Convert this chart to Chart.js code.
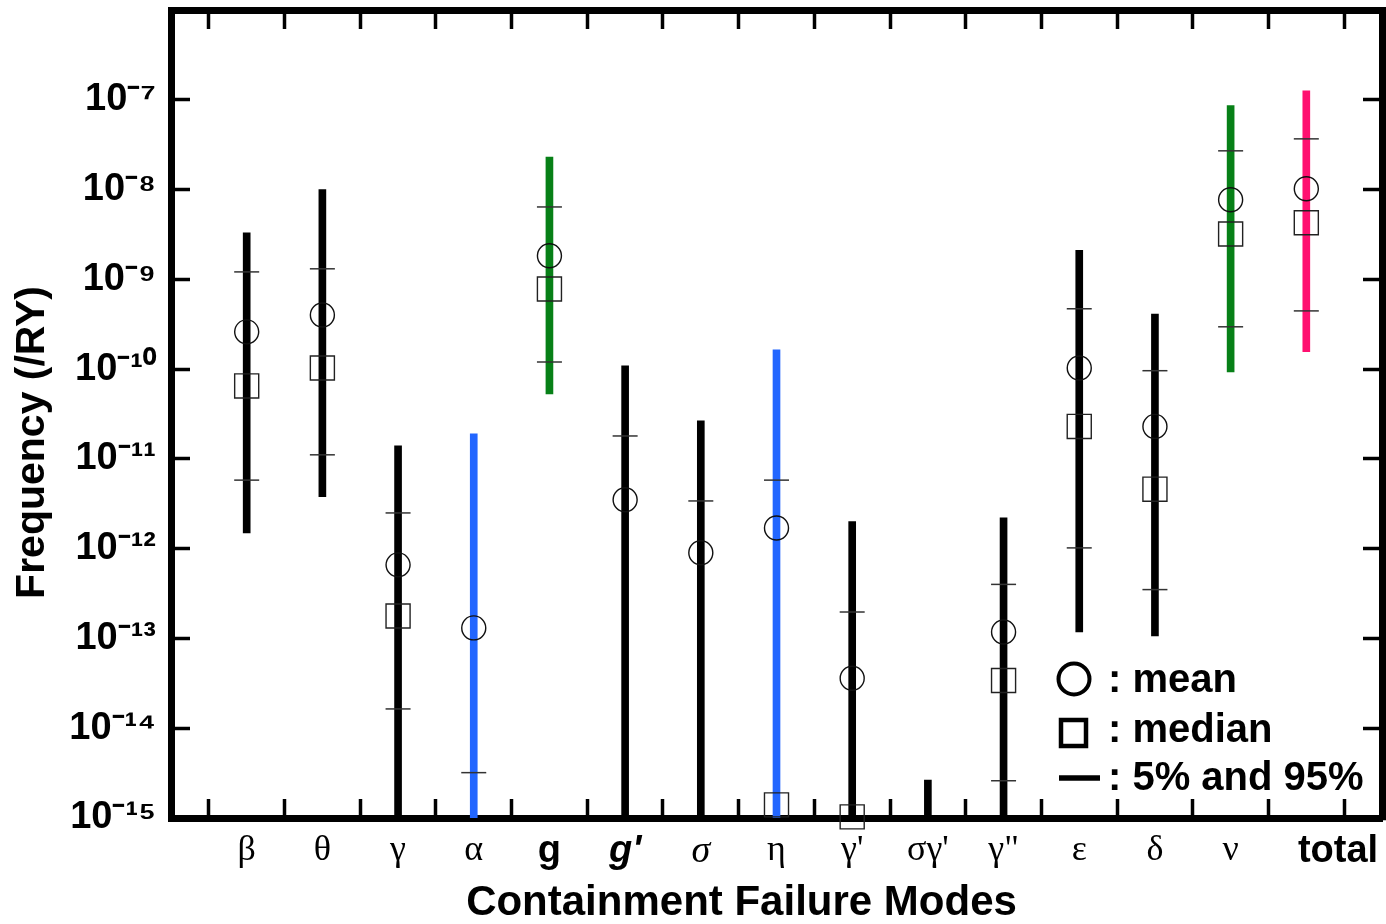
<!DOCTYPE html>
<html>
<head>
<meta charset="utf-8">
<script src="https://cdn.jsdelivr.net/npm/chart.js@4.4.1/dist/chart.umd.min.js"></script>
<style>
  html, body { margin: 0; padding: 0; background: #fff; overflow: hidden; }
  #wrap { width: 1386px; height: 924px; }
  canvas { display: block; }
</style>
</head>
<body>
<div id="wrap"><canvas id="cfm-chart" width="1386" height="924"></canvas></div>
<script>
// containment failure modes
const categories = ['β', 'θ', 'γ', 'α', 'g', "g'", 'σ', 'η', "γ'", "σγ'", 'γ"', 'ε', 'δ', 'ν', 'total'];

// thick bar (range), below-axis ends are just clipped
const barLow = [1.5e-12, 3.8e-12, 1e-16, 1e-16, 5.3e-11, 1e-16, 1e-16, 1e-16, 1e-16, 1e-16, 1e-16, 1.18e-13, 1.07e-13, 9.3e-11, 1.56e-10];
const barHigh = [3.3e-9, 1.0e-8, 1.4e-11, 1.9e-11, 2.3e-8, 1.09e-10, 2.65e-11, 1.64e-10, 2.0e-12, 2.65e-15, 2.2e-12, 2.1e-9, 4.1e-10, 8.6e-8, 1.26e-7];
const barColors = ['#000', '#000', '#000', '#2266ff', '#078017', '#000', '#000', '#2266ff', '#000', '#000', '#000', '#000', '#000', '#078017', '#ff1070'];

const meanValues = [2.6e-10, 4.0e-10, 6.6e-13, 1.31e-13, 1.83e-9, 3.5e-12, 9.0e-13, 1.7e-12, 3.6e-14, null, 1.18e-13, 1.03e-10, 2.3e-11, 7.7e-9, 1.02e-8];
const medianValues = [6.5e-11, 1.03e-10, 1.78e-13, null, 7.8e-10, null, null, 1.4e-15, 1.03e-15, null, 3.4e-14, 2.3e-11, 4.6e-12, 3.2e-9, 4.27e-9];
const p95Values = [1.21e-9, 1.31e-9, 2.5e-12, 3.2e-15, 6.4e-9, 1.8e-11, 3.4e-12, 5.8e-12, 1.97e-13, null, 4.0e-13, 4.7e-10, 9.6e-11, 2.7e-8, 3.67e-8];
const p5Values = [5.8e-12, 1.11e-11, 1.64e-14, null, 1.2e-10, null, null, null, null, null, 2.6e-15, 1.02e-12, 3.5e-13, 2.96e-10, 4.45e-10];

const yTicks = [1e-15, 1e-14, 1e-13, 1e-12, 1e-11, 1e-10, 1e-9, 1e-8, 1e-7];

// empty slot at each end so the modes sit one step in from the frame
function pad(arr) {
    return [null].concat(arr, [null]);
}

const labels = pad(categories).map(c => c === null ? '' : c);

const sup = {'0': '⁰', '1': '¹', '2': '²', '3': '³', '4': '⁴', '5': '⁵', '6': '⁶', '7': '⁷', '8': '⁸', '9': '⁹', '-': '⁻'};
function powerLabel(v) {
    const e = Math.round(Math.log10(v));
    return '10' + String(e).split('').map(ch => sup[ch]).join('');
}

function labelFont(ctx) {
    const lab = labels[ctx.index];
    if (lab === 'g' || lab === 'total') return {family: 'Liberation Sans', size: 38, weight: 'bold'};
    if (lab === "g'") return {family: 'Liberation Sans', size: 38, weight: 'bold', style: 'italic'};
    if (lab === 'σ') return {family: 'Liberation Serif', size: 38, style: 'italic'};
    return {family: 'Liberation Serif', size: 36};
}

const tickGrid = {
    drawOnChartArea: false,
    drawTicks: true,
    tickLength: -19,
    tickWidth: 3.5,
    tickColor: '#000'
};
const frame = {display: true, width: 7, color: '#000'};

function setDecades(scale) {
    scale.ticks = yTicks.map(v => ({value: v}));
}

// pin the frame: no extra room for overhanging labels
function noPadding(scale) {
    scale.paddingTop = 0;
    scale.paddingBottom = 0;
    scale.paddingLeft = 0;
    scale.paddingRight = 0;
}

const legendPlugin = {
    id: 'cornerLegend',
    afterDatasetsDraw(chart) {
        const ctx = chart.ctx;
        ctx.save();
        ctx.strokeStyle = '#000';
        ctx.lineWidth = 4;
        ctx.beginPath();
        ctx.arc(1074, 679, 15.5, 0, Math.PI * 2);
        ctx.stroke();
        ctx.lineWidth = 4.5;
        ctx.strokeRect(1061, 720, 25, 26);
        ctx.lineWidth = 5.5;
        ctx.beginPath();
        ctx.moveTo(1059, 778);
        ctx.lineTo(1100, 778);
        ctx.stroke();
        ctx.fillStyle = '#000';
        ctx.font = 'bold 40px "Liberation Sans"';
        ctx.textBaseline = 'middle';
        ctx.textAlign = 'left';
        ctx.fillText(': mean', 1108, 681);
        ctx.fillText(': median', 1108, 731);
        ctx.fillText(': 5% and 95%', 1108, 779);
        ctx.restore();
    }
};

var chartContext = document.getElementById('cfm-chart').getContext('2d');
var cfmChart = new Chart(chartContext, {
    type: 'bar',
    data: {
        labels: labels,
        datasets: [
            {
                type: 'line',
                label: 'mean',
                data: pad(meanValues),
                showLine: false,
                pointStyle: 'circle',
                pointRadius: 12,
                pointBorderWidth: 1.4,
                pointBorderColor: '#111',
                pointBackgroundColor: 'rgba(0,0,0,0)',
                clip: false
            },
            {
                type: 'line',
                label: 'median',
                data: pad(medianValues),
                showLine: false,
                pointStyle: 'rect',
                pointRadius: 17,
                pointBorderWidth: 1.4,
                pointBorderColor: '#222',
                pointBackgroundColor: 'rgba(0,0,0,0)',
                clip: false
            },
            {
                type: 'line',
                label: '95%',
                data: pad(p95Values),
                showLine: false,
                pointStyle: 'line',
                pointRadius: 12.5,
                pointBorderWidth: 1.5,
                pointBorderColor: '#333'
            },
            {
                type: 'line',
                label: '5%',
                data: pad(p5Values),
                showLine: false,
                pointStyle: 'line',
                pointRadius: 12.5,
                pointBorderWidth: 1.5,
                pointBorderColor: '#333'
            },
            {
                label: 'range',
                data: pad(barLow.map((lo, i) => [lo, barHigh[i]])),
                backgroundColor: pad(barColors),
                borderWidth: 0,
                barThickness: 7,
                grouped: false
            }
        ]
    },
    options: {
        responsive: false,
        animation: false,
        devicePixelRatio: 1,
        layout: {padding: 0, autoPadding: false},
        plugins: {
            legend: {display: false},
            tooltip: {enabled: false}
        },
        scales: {
            x: {
                type: 'category',
                position: 'bottom',
                offset: false,
                grid: tickGrid,
                border: frame,
                ticks: {
                    autoSkip: false,
                    maxRotation: 0,
                    minRotation: 0,
                    padding: 30,
                    color: '#000',
                    font: labelFont,
                    // "total" sits a little right of its tick in the original
                    callback: function (value, index) {
                        const lab = labels[index];
                        return lab === 'total' ? '      total' : lab;
                    }
                },
                title: {
                    display: true,
                    text: 'Containment Failure Modes      ',
                    color: '#000',
                    font: {family: 'Liberation Sans', size: 42, weight: 'bold', lineHeight: 1},
                    padding: {top: 0, bottom: 0}
                },
                afterFit: function (scale) { scale.height = 106; noPadding(scale); }
            },
            x2: {
                type: 'category',
                position: 'top',
                offset: false,
                grid: tickGrid,
                border: frame,
                ticks: {display: false, autoSkip: false},
                afterFit: function (scale) { scale.height = 10; noPadding(scale); }
            },
            y: {
                type: 'logarithmic',
                position: 'left',
                min: 1e-15,
                max: 1e-6,
                grid: tickGrid,
                border: frame,
                afterBuildTicks: setDecades,
                ticks: {
                    padding: 34,
                    color: '#000',
                    font: {family: 'Liberation Sans', size: 38, weight: 'bold'},
                    callback: function (value) { return powerLabel(value); }
                },
                title: {
                    display: true,
                    text: 'Frequency (/RY)     ',
                    color: '#000',
                    font: {family: 'Liberation Sans', size: 41, weight: 'bold', lineHeight: 1},
                    padding: {top: 12, bottom: 0}
                },
                afterFit: function (scale) { scale.width = 171; noPadding(scale); }
            },
            y2: {
                type: 'logarithmic',
                position: 'right',
                min: 1e-15,
                max: 1e-6,
                grid: tickGrid,
                border: frame,
                afterBuildTicks: setDecades,
                ticks: {display: false},
                afterFit: function (scale) { scale.width = 4; noPadding(scale); }
            }
        }
    },
    plugins: [legendPlugin]
});
</script>
</body>
</html>
